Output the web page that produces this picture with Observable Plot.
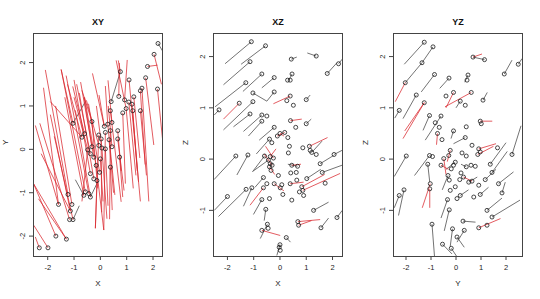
<!DOCTYPE html>
<html>
<head>
<meta charset="utf-8">
<script src="https://cdn.jsdelivr.net/npm/d3@7"></script>
<script src="https://cdn.jsdelivr.net/npm/@observablehq/plot@0.6"></script>
<style>
  html, body { margin: 0; padding: 0; background: #fff; }
  #row { display: flex; width: 540px; height: 299px; }
</style>
</head>
<body>
<div id="row"></div>
<script>
// ---------- tick labels ----------
const ticksXY = [-2, -1, 0, 1, 2];
const ticksZ = [-1, 0, 1, 2];

// ---------- XY panel ----------
const xyDots = [[2.19,2.44],[2.04,2.19],[1.79,1.91],[1.72,1.65],[2.17,1.39],[0.76,1.79],[1.09,1.60],[1.58,1.41],[1.52,1.35],[0.70,1.22],[0.92,1.14],[1.08,1.09],[1.20,1.04],[1.27,1.21],[0.41,1.10],[0.98,0.94],[1.23,0.89],[1.52,0.89],[0.85,0.84],[0.38,0.89],[-0.32,0.64],[-1.04,0.60],[0.28,0.58],[0.44,0.62],[0.15,0.53],[0.38,0.43],[0.19,0.39],[0.66,0.43],[0.66,0.24],[-0.60,0.36],[-0.70,0.28],[-0.06,0.33],[0.03,0.24],[0.33,0.22],[-0.32,0.06],[-0.06,0.09],[0.06,0.03],[0.19,0.01],[-0.48,-0.01],[-0.38,-0.10],[-0.25,-0.18],[-0.16,-0.37],[0.00,-0.22],[0.38,-0.41],[0.44,0.06],[0.73,-0.18],[-0.38,-0.56],[-0.25,-0.68],[-0.13,-0.72],[-0.03,-0.53],[-0.57,-0.98],[-0.44,-1.02],[-0.38,-1.10],[-0.63,-1.06],[-1.23,-1.04],[-1.08,-1.27],[-1.59,-1.27],[-1.14,-1.42],[-1.17,-1.62],[-1.04,-1.62],[-1.69,-2.00],[-1.29,-2.07],[-2.32,-2.27],[-1.99,-2.27]];
const xyRed = [[2.04,2.19,2.32,1.50],[1.79,1.91,2.17,1.94],[1.72,1.65,2.03,0.10],[2.17,1.39,2.40,0.00],[0.76,1.79,0.68,2.05],[1.09,1.60,1.52,-1.20],[1.58,1.41,1.84,-1.20],[1.52,1.35,1.70,-0.35],[0.70,1.22,0.72,1.99],[0.92,1.14,1.02,2.06],[1.08,1.09,1.35,-0.60],[1.20,1.04,1.45,-0.75],[1.27,1.21,1.50,-0.20],[0.98,0.94,1.25,-0.90],[1.23,0.89,1.40,-0.50],[1.52,0.89,1.75,-0.60],[0.85,0.84,0.95,-0.79],[0.38,0.89,0.79,-1.21],[-0.32,0.64,-0.70,1.36],[-1.04,0.60,-1.49,1.84],[0.28,0.58,0.19,1.46],[0.44,0.62,0.29,1.59],[0.15,0.53,-0.05,1.25],[0.38,0.43,0.35,-1.61],[0.19,0.39,0.13,-1.86],[0.66,0.43,0.79,-0.50],[0.66,0.24,0.90,-0.95],[-0.60,0.36,-1.05,1.45],[-0.70,0.28,-1.25,1.50],[-0.06,0.33,-0.19,-1.82],[0.03,0.24,0.05,-1.45],[0.33,0.22,0.50,-1.00],[-0.32,0.06,-0.62,1.20],[-0.06,0.09,-0.53,1.13],[0.06,0.03,-0.15,1.00],[0.19,0.01,0.29,-1.30],[-0.48,-0.01,-1.00,1.20],[-0.38,-0.10,-0.90,1.50],[-0.25,-0.18,-0.75,1.55],[-0.16,-0.37,-0.60,1.20],[0.00,-0.22,0.10,-1.20],[0.38,-0.41,0.45,-1.40],[0.44,0.06,0.30,1.00],[0.73,-0.18,0.85,-1.10],[-0.38,-0.56,-1.00,1.60],[-0.25,-0.68,-0.80,1.30],[-0.13,-0.72,-0.19,-1.82],[-0.03,-0.53,-0.45,1.05],[-0.57,-0.98,-1.49,1.84],[-0.44,-1.02,-1.30,1.70],[-1.23,-1.04,-2.09,1.83],[-1.08,-1.27,-1.70,1.00],[-1.59,-1.27,-2.16,1.42],[-1.14,-1.42,-1.90,0.80],[-1.17,-1.62,-2.30,0.60],[-1.69,-2.00,-2.53,-0.80],[-1.29,-2.07,-2.35,-1.14],[-1.29,-2.07,-2.53,-0.80],[-2.32,-2.27,-2.47,-2.02],[-1.99,-2.27,-2.53,-1.75],[-1.59,-1.27,-2.47,0.55],[-1.04,-1.62,-1.75,0.30],[-0.63,-1.06,-1.35,1.20],[-0.38,-1.10,-0.95,0.90],[-0.16,-0.37,0.13,-1.86],[-0.48,-0.01,-0.70,-1.20],[0.06,0.03,0.25,-1.60],[-0.32,0.64,-0.10,-0.90],[0.28,0.58,0.55,-1.05],[-1.14,-1.42,-2.25,-0.10],[0.15,0.53,-0.30,1.75],[-0.70,0.28,-1.90,1.10],[0.98,0.94,0.60,2.05]];
const xyBlack = [[2.19,2.44,2.38,2.25],[0.41,1.10,0.76,1.79],[-1.04,0.60,-0.57,1.10],[-0.63,-1.06,-0.95,-0.70],[-1.04,-1.62,-0.80,-1.30],[-0.38,-1.10,-0.10,-0.75]];

// ---------- XZ panel ----------
const xzDots = [[-1.09,2.29],[-0.55,2.21],[-1.14,1.90],[0.43,1.95],[1.38,2.01],[2.23,1.86],[1.80,1.67],[-0.69,1.66],[-1.30,1.49],[-0.22,1.59],[0.46,1.66],[0.29,1.54],[0.39,1.54],[-1.03,1.29],[-0.22,1.31],[0.39,1.23],[0.26,1.14],[1.00,1.16],[0.51,1.05],[-1.03,1.12],[-1.55,1.09],[-2.32,0.96],[-1.14,0.88],[-0.69,0.86],[-0.50,0.84],[-0.69,0.74],[0.40,0.75],[1.00,0.69],[0.60,0.62],[-0.22,0.62],[0.00,0.50],[0.18,0.52],[-0.10,0.45],[0.30,0.42],[-0.40,0.39],[-0.31,0.32],[-1.68,0.06],[-1.22,0.08],[-0.59,0.06],[-0.37,0.05],[-0.25,0.02],[-0.44,-0.02],[-0.37,-0.09],[-0.30,-0.12],[-0.40,-0.15],[-0.34,-0.22],[0.36,0.25],[0.32,0.12],[0.87,0.22],[1.12,0.25],[1.15,0.17],[1.21,0.13],[1.38,0.09],[2.06,0.09],[1.53,-0.09],[1.61,-0.26],[0.45,-0.12],[0.67,-0.14],[0.62,-0.26],[0.41,-0.27],[-0.06,-0.32],[-0.63,-0.36],[-0.50,-0.48],[-0.22,-0.48],[0.07,-0.50],[0.01,-0.56],[1.02,-0.38],[0.39,-0.48],[0.64,-0.41],[0.83,-0.54],[0.87,-0.61],[0.90,-0.71],[0.74,-0.64],[1.72,-0.47],[-2.00,-0.73],[-1.29,-0.59],[-1.07,-0.56],[-0.63,-0.56],[-0.40,-0.77],[-0.69,-0.79],[-0.54,-0.98],[0.11,-0.69],[0.45,-0.80],[1.28,-1.00],[2.17,-1.14],[0.68,-1.22],[0.71,-1.29],[1.56,-1.34],[-0.48,-1.27],[-0.69,-1.39],[-0.45,-1.35],[0.24,-1.53],[0.00,-1.67],[-0.03,-1.72],[0.01,-1.78]];
const xzBlack = [[-1.09,2.29,-2.09,1.86],[-0.55,2.21,-1.48,1.85],[-1.14,1.90,-2.15,1.45],[0.43,1.95,0.64,1.99],[1.38,2.01,1.04,2.07],[2.23,1.86,2.37,1.95],[1.80,1.67,2.17,1.88],[-0.69,1.66,-1.41,1.32],[-1.30,1.49,-2.47,1.02],[-0.22,1.59,-0.69,1.39],[0.46,1.66,0.35,1.55],[-1.03,1.29,-0.50,1.13],[-0.22,1.31,-0.50,1.13],[1.00,1.16,1.15,1.25],[-1.03,1.12,-2.15,0.57],[-2.32,0.96,-2.50,0.86],[-1.14,0.88,-1.77,0.63],[-0.69,0.86,-1.39,0.54],[-0.69,0.74,-1.20,0.45],[1.00,0.69,1.19,0.78],[-0.22,0.62,-0.79,0.37],[-0.40,0.39,-0.90,0.10],[-1.68,0.06,-2.51,-0.40],[-1.22,0.08,-1.64,-0.31],[-0.59,0.06,-1.05,-0.25],[-0.44,-0.02,-1.01,-0.23],[1.21,0.13,1.60,0.35],[2.06,0.09,2.36,0.17],[1.53,-0.09,2.04,0.07],[1.61,-0.26,2.36,-0.12],[0.67,-0.14,0.30,-0.10],[1.02,-0.38,1.55,-0.20],[-0.63,-0.36,-0.95,-0.55],[-2.00,-0.73,-2.50,-1.00],[-1.29,-0.59,-2.34,-1.12],[-1.07,-0.56,-1.39,-0.92],[-0.69,-0.79,-1.01,-1.08],[-0.54,-0.98,-0.60,-1.20],[1.28,-1.00,1.85,-0.84],[2.17,-1.14,2.37,-1.00],[1.56,-1.34,1.85,-1.15],[0.24,-1.53,0.40,-1.62],[-0.48,-1.27,-0.75,-1.55],[0.00,-1.67,-0.12,-1.88]];
const xzRed = [[0.39,1.23,-0.25,1.08],[-1.55,1.09,-2.15,0.78],[0.40,0.75,0.83,0.78],[1.12,0.25,1.81,0.42],[0.45,-0.12,0.80,-0.10],[0.87,-0.61,2.29,-0.28],[0.83,-0.54,1.70,-0.30],[-0.63,-0.56,-1.14,-0.90],[0.68,-1.22,1.53,-1.18],[0.71,-1.29,1.20,-1.20],[-0.69,-1.39,0.01,-1.49],[-0.37,0.05,-0.15,0.20],[-0.25,0.02,-0.55,0.25],[-0.40,-0.15,-0.20,-0.30],[-0.30,-0.12,-0.60,0.10],[0.00,0.50,0.15,0.45],[0.18,0.52,-0.10,0.45],[-0.22,-0.48,0.15,-0.62],[0.39,-0.48,0.90,-0.45]];

// ---------- YZ panel ----------
const yzDots = [[-1.27,2.28],[-0.92,2.19],[-1.36,1.88],[-2.03,1.49],[0.68,1.99],[1.14,1.94],[2.49,1.85],[1.93,1.66],[-0.86,1.65],[-0.28,1.58],[0.48,1.64],[0.44,1.54],[-1.59,1.25],[-0.40,1.23],[-0.10,1.30],[0.61,1.30],[1.08,1.15],[0.17,1.13],[0.37,1.05],[-1.27,1.10],[-2.27,0.95],[-1.06,0.85],[-0.60,0.84],[-0.83,0.71],[-0.67,0.62],[-0.74,0.50],[-0.56,0.38],[-0.10,0.55],[0.41,0.63],[0.37,0.42],[0.97,0.74],[1.01,0.69],[-1.99,0.06],[-1.06,0.07],[-0.94,0.05],[-1.13,-0.10],[-0.23,0.17],[-0.29,0.07],[-0.49,0.01],[-0.60,-0.12],[0.24,0.12],[0.41,0.06],[0.64,0.27],[0.91,0.20],[0.97,0.14],[0.87,0.09],[1.66,0.22],[2.24,0.09],[-0.03,-0.06],[-0.10,-0.12],[-0.19,-0.19],[0.41,-0.15],[0.60,-0.12],[0.77,-0.14],[1.37,-0.10],[1.44,-0.26],[1.70,-0.48],[1.84,-0.66],[0.20,-0.27],[0.30,-0.35],[0.15,-0.40],[-0.32,-0.32],[-0.27,-0.41],[-0.03,-0.54],[-0.23,-0.61],[0.51,-0.45],[0.64,-0.43],[0.91,-0.51],[1.17,-0.40],[0.17,-0.71],[0.04,-0.77],[0.71,-0.74],[0.97,-0.69],[-1.03,-0.48],[-1.05,-0.58],[-2.08,-0.60],[-2.27,-0.71],[-0.34,-0.79],[-0.27,-0.99],[1.24,-1.00],[1.44,-1.13],[0.28,-1.21],[-0.96,-1.27],[0.91,-1.34],[1.24,-1.29],[-0.14,-1.36],[0.33,-1.39],[0.04,-1.52],[-0.54,-1.66],[-0.19,-1.74]];
const yzBlack = [[-1.27,2.28,-2.07,1.85],[-0.92,2.19,-1.36,1.88],[-1.36,1.88,-2.03,1.49],[0.68,1.99,1.14,1.94],[2.49,1.85,2.64,1.96],[1.93,1.66,2.24,1.93],[-0.86,1.65,-1.39,1.31],[-0.28,1.58,-0.65,1.38],[0.48,1.64,0.35,1.50],[-1.59,1.25,-2.12,0.79],[1.08,1.15,1.25,1.30],[0.17,1.13,0.00,1.00],[-2.27,0.95,-2.45,0.80],[-1.06,0.85,-1.32,0.56],[-0.60,0.84,-1.23,0.37],[-0.10,0.55,-0.20,0.40],[0.37,0.42,-0.10,0.30],[-1.99,0.06,-2.47,-0.34],[-1.06,0.07,-1.66,-0.32],[-1.13,-0.10,-1.05,-0.45],[2.24,0.09,2.60,0.65],[1.37,-0.10,2.00,0.32],[1.44,-0.26,2.05,0.15],[1.70,-0.48,2.30,-0.25],[1.84,-0.66,1.97,-0.45],[1.17,-0.40,1.60,-0.20],[-2.08,-0.60,-2.30,-1.10],[-2.27,-0.71,-2.47,-0.95],[-0.34,-0.79,-0.60,-1.15],[-0.27,-0.99,-0.47,-1.40],[1.24,-1.00,1.84,-0.76],[1.44,-1.13,2.56,-0.80],[0.28,-1.21,0.78,-1.23],[-0.96,-1.27,-0.86,-1.90],[-0.14,-1.36,-0.23,-1.70],[0.33,-1.39,0.04,-1.62],[0.04,-1.52,0.33,-1.72],[-0.54,-1.66,-0.16,-1.85],[-0.19,-1.74,0.10,-1.95],[-0.32,-0.32,-0.55,-0.60],[0.51,-0.45,0.85,-0.35],[0.97,-0.69,1.30,-0.55],[0.17,-0.71,0.50,-0.60],[0.41,-0.15,0.20,-0.10],[-0.03,-0.06,-0.40,-0.20]];
const yzRed = [[0.68,1.99,1.04,2.05],[-2.03,1.49,-2.43,1.12],[0.61,1.30,-0.44,1.02],[-0.10,1.30,-0.40,1.00],[-1.27,1.10,-2.12,0.40],[-1.27,1.10,-2.05,0.55],[-0.74,0.50,-0.78,0.28],[0.97,0.74,1.45,0.74],[-1.03,-0.48,-1.35,-0.95],[-1.05,-0.58,-1.05,-0.95],[-0.23,0.17,-0.35,-0.05],[-0.49,0.01,-0.40,-0.30],[-0.60,-0.12,-0.30,-0.20],[0.91,0.20,1.60,0.30],[0.87,0.09,1.50,0.25],[0.91,-1.34,1.78,-1.16],[0.64,-0.43,0.30,-0.35]];

// ---------- drawing ----------
const FONT = "'Liberation Sans', Arial, Helvetica, sans-serif";
const fmt = d => String(d);
function panel({title, xLabel, yLabel, xDomain, yDomain, xTicks, yTicks, dots, black, red}) {
  return Plot.plot({
    width: 180, height: 299,
    marginTop: 33, marginLeft: 33, marginRight: 18, marginBottom: 43,
    x: {domain: xDomain},
    y: {domain: yDomain},
    style: {fontFamily: FONT, fontSize: "7.5px", background: "white", color: "#222", overflow: "visible"},
    marks: [
      Plot.link(black, {x1: d => d[0], y1: d => d[1], x2: d => d[2], y2: d => d[3], stroke: "#444", strokeWidth: 0.75, clip: true}),
      Plot.link(red, {x1: d => d[0], y1: d => d[1], x2: d => d[2], y2: d => d[3], stroke: "#d9262c", strokeWidth: 0.75, clip: true}),
      Plot.dot(dots, {x: d => d[0], y: d => d[1], r: 2, stroke: "#1a1a1a", strokeWidth: 0.8, fill: "none", clip: true}),
      Plot.frame({stroke: "#444", strokeWidth: 1}),
      Plot.axisX({ticks: xTicks, tickFormat: fmt, tickSize: 4, tickPadding: 4, label: null, stroke: "#444", fill: "#222"}),
      Plot.axisY({ticks: yTicks, tickFormat: fmt, tickSize: 4, tickPadding: 5, tickRotate: -90, label: null, stroke: "#444", fill: "#222"}),
      Plot.text([xLabel], {text: d => d, frameAnchor: "bottom", dy: 29, fontSize: 8, fill: "#222"}),
      Plot.text([yLabel], {text: d => d, frameAnchor: "left", dx: -28, rotate: -90, fontSize: 8, fill: "#222"}),
      Plot.text([title], {text: d => d, frameAnchor: "top", dy: -15, fontWeight: "bold", fontSize: 9, fill: "#111"})
    ]
  });
}

const row = document.getElementById("row");
row.append(
  panel({title: "XY", xLabel: "X", yLabel: "Y", xDomain: [-2.54, 2.36], yDomain: [-2.47, 2.67], xTicks: ticksXY, yTicks: ticksXY, dots: xyDots, black: xyBlack, red: xyRed}),
  panel({title: "XZ", xLabel: "X", yLabel: "Z", xDomain: [-2.53, 2.38], yDomain: [-1.90, 2.45], xTicks: ticksXY, yTicks: ticksZ, dots: xzDots, black: xzBlack, red: xzRed}),
  panel({title: "YZ", xLabel: "Y", yLabel: "Z", xDomain: [-2.50, 2.66], yDomain: [-1.90, 2.45], xTicks: ticksXY, yTicks: ticksZ, dots: yzDots, black: yzBlack, red: yzRed})
);
</script>
</body>
</html>
